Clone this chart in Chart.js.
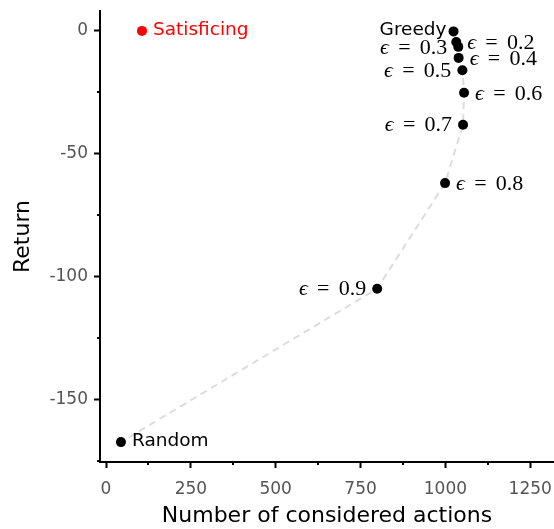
<!DOCTYPE html>
<html>
<head>
<meta charset="utf-8">
<script src="https://cdn.jsdelivr.net/npm/chart.js@4/dist/chart.umd.min.js"></script>
<style>
  html, body { margin: 0; padding: 0; background: #fff; }
  canvas { display: block; }
</style>
</head>
<body>
<canvas id="chart" width="554" height="529"></canvas>
<script>
// Agents ordered from greedy through increasing exploration rate to random
const methodNames = ['Greedy', 'ϵ = 0.2', 'ϵ = 0.3', 'ϵ = 0.4', 'ϵ = 0.5',
                     'ϵ = 0.6', 'ϵ = 0.7', 'ϵ = 0.8', 'ϵ = 0.9', 'Random'];
const consideredActions = [1024, 1032, 1038, 1039, 1050, 1055, 1052, 999, 799, 44];
const returns = [-0.2, -4.5, -6.5, -11, -16, -25.2, -38.2, -62, -105, -167.5];

const satisficingName = 'Satisficing';
const satisficingActions = [106];
const satisficingReturn = [0];

const xTicks = [0, 250, 500, 750, 1000, 1250];
const xMinorTicks = [125, 375, 625, 875, 1125];
const yTicks = [0, -50, -100, -150];
const yMinorTicks = [-25, -75, -125, -175];

// which side of its marker each name is written on
const labelSide = ['left', 'right', 'left', 'right', 'left',
                   'right', 'left', 'right', 'left', 'right'];

const SANS = '"DejaVu Sans", "Liberation Sans", sans-serif';
const SERIF = '"Liberation Serif", "DejaVu Serif", serif';

function drawName(ctx, text, x, y, side, color) {
  const gap = 11;
  ctx.save();
  ctx.fillStyle = color;
  ctx.textBaseline = 'middle';
  ctx.textAlign = 'left';
  const m = /^ϵ = (.*)$/.exec(text);
  if (m) {
    const size = 22;
    const it = `italic ${size}px ${SERIF}`;
    const rm = `${size}px ${SERIF}`;
    const sp = size * 0.42;
    ctx.font = it; const wE = ctx.measureText('ϵ').width;
    ctx.font = rm; const wEq = ctx.measureText('=').width;
    const wN = ctx.measureText(m[1]).width;
    const total = wE + sp + wEq + sp + wN;
    let cx = side === 'right' ? x + gap : x - gap - total;
    const ty = y + 1;
    ctx.font = it; ctx.fillText('ϵ', cx, ty); cx += wE + sp;
    ctx.font = rm; ctx.fillText('=', cx, ty); cx += wEq + sp;
    ctx.fillText(m[1], cx, ty);
  } else {
    ctx.font = `18.5px ${SANS}`;
    const w = ctx.measureText(text).width;
    const g = text === 'Greedy' ? 7 : gap;
    const cx = side === 'right' ? x + g : x - g - w;
    ctx.fillText(text, cx, y - 1);
  }
  ctx.restore();
}

const namePlugin = {
  id: 'names',
  afterDatasetsDraw(chart) {
    const ctx = chart.ctx;
    const pts = chart.getDatasetMeta(0).data;
    pts.forEach((p, i) => drawName(ctx, methodNames[i], p.x, p.y, labelSide[i], '#000'));
    const s = chart.getDatasetMeta(1).data[0];
    drawName(ctx, satisficingName, s.x, s.y, 'right', '#f00');
  }
};

// let the plot area run all the way to the right edge of the canvas
const fullWidthPlugin = {
  id: 'fullWidth',
  afterLayout(chart) {
    const xs = chart.scales.x;
    chart.chartArea.right = chart.width;
    chart.chartArea.width = chart.chartArea.right - chart.chartArea.left;
    xs.right = chart.width;
    xs.width = xs.right - xs.left;
    xs.configure();
  }
};

const minorTickPlugin = {
  id: 'minorTicks',
  afterDraw(chart) {
    const ctx = chart.ctx;
    const xs = chart.scales.x, ys = chart.scales.y;
    const area = chart.chartArea;
    ctx.save();
    ctx.strokeStyle = '#000';
    ctx.lineWidth = 2;
    ctx.beginPath();
    xMinorTicks.forEach(v => {
      const px = Math.round(xs.getPixelForValue(v));
      ctx.moveTo(px, area.bottom);
      ctx.lineTo(px, area.bottom + 3);
    });
    yMinorTicks.forEach(v => {
      const py = Math.round(ys.getPixelForValue(v));
      ctx.moveTo(area.left, py);
      ctx.lineTo(area.left - 3, py);
    });
    ctx.stroke();
    ctx.restore();
  }
};

new Chart(document.getElementById('chart'), {
  type: 'scatter',
  data: {
    datasets: [
      {
        data: consideredActions.map((x, i) => ({ x, y: returns[i] })),
        showLine: true,
        borderColor: '#dcdcdc',
        borderWidth: 2,
        borderDash: [7, 5],
        pointRadius: 5,
        pointHoverRadius: 5,
        pointBackgroundColor: '#000',
        pointBorderWidth: 0
      },
      {
        data: satisficingActions.map((x, i) => ({ x, y: satisficingReturn[i] })),
        pointRadius: 5,
        pointHoverRadius: 5,
        pointBackgroundColor: '#f00',
        pointBorderWidth: 0
      }
    ]
  },
  options: {
    responsive: false,
    animation: false,
    devicePixelRatio: 1,
    layout: { padding: { top: 11, right: 0, left: 0, bottom: 0 } },
    plugins: { legend: { display: false }, tooltip: { enabled: false } },
    scales: {
      x: {
        type: 'linear',
        min: -17.7,
        max: 1320,
        afterBuildTicks: s => { s.ticks = xTicks.map(v => ({ value: v })); },
        afterFit: s => { s.height = 67; s.paddingLeft = 0; s.paddingRight = 0; },
        grid: { drawOnChartArea: false, drawTicks: true, tickLength: 6, tickColor: '#000', tickWidth: 2 },
        border: { display: true, color: '#000', width: 2 },
        ticks: { color: '#555', font: { family: SANS, size: 17 }, padding: 11, maxRotation: 0,
                 callback: v => String(v) },
        title: { display: true, text: 'Number of considered actions', color: '#000',
                 font: { family: SANS, size: 22 }, padding: { top: 0, bottom: 0 } }
      },
      y: {
        type: 'linear',
        min: -175.6,
        max: 8.1,
        afterBuildTicks: s => { s.ticks = yTicks.map(v => ({ value: v })); },
        afterFit: s => { s.width = 100; s.paddingTop = 0; s.paddingBottom = 0; },
        grid: { drawOnChartArea: false, drawTicks: true, tickLength: 6, tickColor: '#000', tickWidth: 2 },
        border: { display: true, color: '#000', width: 2 },
        ticks: { color: '#555', font: { family: SANS, size: 17 }, padding: 6,
                 callback: v => String(v) },
        title: { display: true, text: 'Return', color: '#000',
                 font: { family: SANS, size: 22 }, padding: { top: 10, bottom: 0 } }
      }
    }
  },
  plugins: [fullWidthPlugin, namePlugin, minorTickPlugin]
});
</script>
</body>
</html>
